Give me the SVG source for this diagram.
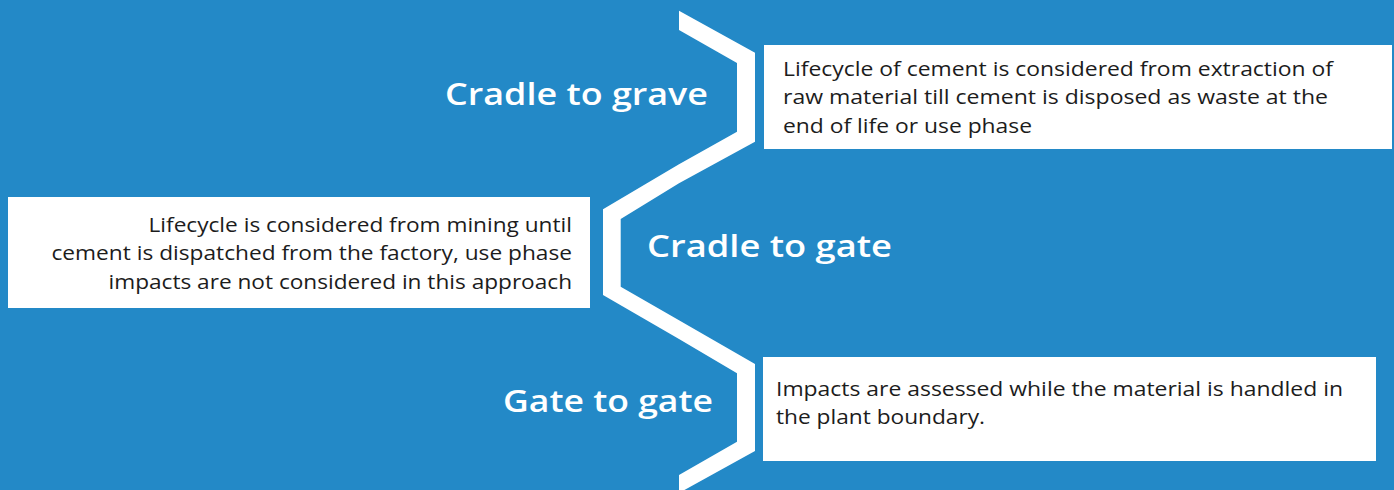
<svg xmlns="http://www.w3.org/2000/svg" width="1394" height="490" viewBox="0 0 1394 490">
  <style>
    .bg { fill: #2389c7; }
    .band { fill: #ffffff; }
    .box { fill: #ffffff; }
    .title { font-family: "Open Sans", "Liberation Sans", sans-serif; font-weight: 600; font-size: 31px; fill: #ffffff; }
    .body { font-family: "Open Sans", "Liberation Sans", sans-serif; font-size: 20px; fill: #1c1c1c; }
  </style>
  <rect class="bg" x="0" y="0" width="1394" height="490"/>

  <!-- zigzag band made of three chevrons -->
  <g id="connectors">
    <polygon class="band" points="679,10.7 755,52.7 755,141.7 679,183.3 679,164.3 737,131.7 737,63 679,30"/>
    <polygon class="band" points="679,164.3 603,209.3 603,295 679,339 679,320.2 620.7,286.7 620.7,219 679,183.3"/>
    <polygon class="band" points="679,320.2 755,364 755,451 679,493 679,475 737,441.7 737,373.3 679,339"/>
  </g>

  <g id="cradle-to-grave">
    <text class="title" x="445" y="105" textLength="263" lengthAdjust="spacingAndGlyphs">Cradle to grave</text>
    <rect class="box" x="764" y="45" width="628" height="104"/>
    <text class="body" x="783" y="76" textLength="550" lengthAdjust="spacingAndGlyphs">Lifecycle of cement is considered from extraction of</text>
    <text class="body" x="783" y="104" textLength="545" lengthAdjust="spacingAndGlyphs">raw material till cement is disposed as waste at the</text>
    <text class="body" x="783" y="132.5" textLength="249" lengthAdjust="spacingAndGlyphs">end of life or use phase</text>
  </g>

  <g id="cradle-to-gate">
    <text class="title" x="647" y="257" textLength="245" lengthAdjust="spacingAndGlyphs">Cradle to gate</text>
    <rect class="box" x="8" y="197" width="582" height="111"/>
    <text class="body" x="148.5" y="231.5" textLength="423.5" lengthAdjust="spacingAndGlyphs">Lifecycle is considered from mining until</text>
    <text class="body" x="51.5" y="260" textLength="520.5" lengthAdjust="spacingAndGlyphs">cement is dispatched from the factory, use phase</text>
    <text class="body" x="108.5" y="288.5" textLength="463.5" lengthAdjust="spacingAndGlyphs">impacts are not considered in this approach</text>
  </g>

  <g id="gate-to-gate">
    <text class="title" x="503" y="412" textLength="210" lengthAdjust="spacingAndGlyphs">Gate to gate</text>
    <rect class="box" x="763" y="357" width="613" height="104"/>
    <text class="body" x="776" y="395.5" textLength="567" lengthAdjust="spacingAndGlyphs">Impacts are assessed while the material is handled in</text>
    <text class="body" x="776" y="424" textLength="209" lengthAdjust="spacingAndGlyphs">the plant boundary.</text>
  </g>
</svg>
